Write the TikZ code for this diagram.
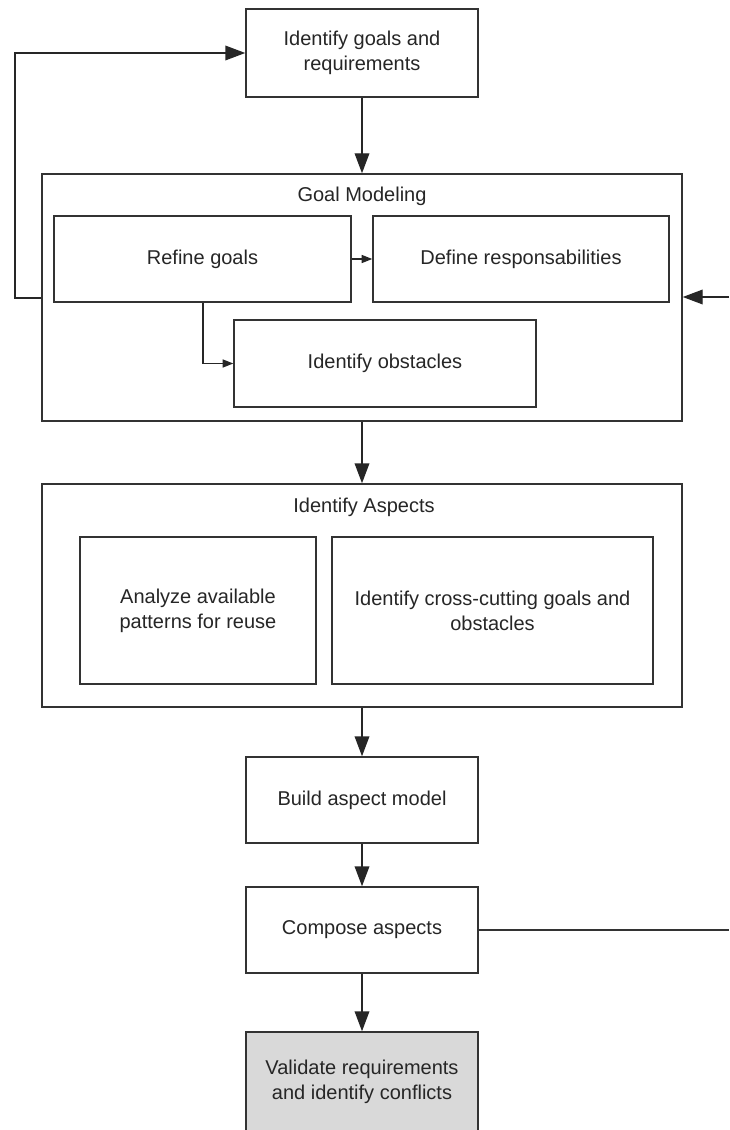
\documentclass[tikz,border=0pt]{standalone}
\usepackage{fontspec}
\setmainfont{Liberation Sans}
\usetikzlibrary{arrows.meta,fit}

\begin{document}
\begin{tikzpicture}[
  x=0.75pt, y=-0.75pt,
  every node/.style={font=\fontsize{15}{18.75}\selectfont, text=black!85},
  box/.style={draw=black!80, line width=1.1pt, inner sep=0pt},
  txt/.style={label={[align=center]center:#1}},
  bigarrow/.style={draw=black!85, line width=1.1pt, -{Triangle[length=15pt,width=11pt]}},
  smallarrow/.style={draw=black!85, line width=1.1pt, -{Triangle[length=8pt,width=6pt]}},
  plainline/.style={draw=black!80, line width=1.1pt},
]
  % page frame
  \fill[white] (0,0) rectangle (729,1130);
  \useasboundingbox (0,0) rectangle (729,1130);

  % top step
  \node[box, fit={(246,9) (478,97)}, txt={Identify goals and\\requirements}] (goals) {};

  % goal modeling group
  \node[box, fit={(42,174) (682,421)}] (gm) {};
  \node (gmtitle) at (362,196) {Goal Modeling};
  \node[box, fit={(54,216) (351,302)}, txt={Refine goals}] (refine) {};
  \node[box, fit={(373,216) (669,302)}, txt={Define responsabilities}] (define) {};
  \node[box, fit={(234,320) (536,407)}, txt={Identify obstacles}] (obst) {};

  % aspect identification group
  \node[box, fit={(42,484) (682,707)}] (asp) {};
  \node (asptitle) at (364,507) {Identify Aspects};
  \node[box, fit={(80,537) (316,684)}, txt={Analyze available\\patterns for reuse}] (analyze) {};
  \node[box, fit={(332,537) (653,684)}, txt={Identify cross-cutting goals and\\obstacles}] (cross) {};

  % lower steps
  \node[box, fit={(246,757) (478,843)}, txt={Build aspect model}] (build) {};
  \node[box, fit={(246,887) (478,973)}, txt={Compose aspects}] (compose) {};
  \node[box, fill={rgb,255:red,217;green,217;blue,217}, fit={(246,1032) (478,1131.5)},
        txt={Validate requirements\\and identify conflicts}] (validate) {};

  % connector end points
  \coordinate (loopL) at (15,298);
  \coordinate (rin) at (729,297);
  \coordinate (rout) at (729,930);
  \coordinate (rj) at (203,363);

  % main flow
  \draw[bigarrow] (goals.south) -- (gm.north);
  \draw[bigarrow] (gm.south) -- (asp.north);
  \draw[bigarrow] (asp.south) -- (build.north);
  \draw[bigarrow] (build.south) -- (compose.north);
  \draw[bigarrow] (compose.south) -- (validate.north);

  % inside goal modeling
  \draw[smallarrow] (refine.east) -- (define.west);
  \draw[smallarrow] (refine.south -| rj) |- (obst.west);

  % feedback loop and external links
  \draw[bigarrow] (gm.west |- loopL) -- (loopL) |- (goals.west);
  \draw[bigarrow] (rin) -- (rin -| gm.east);
  \draw[plainline] (compose.east) -- (rout);
\end{tikzpicture}
\end{document}
